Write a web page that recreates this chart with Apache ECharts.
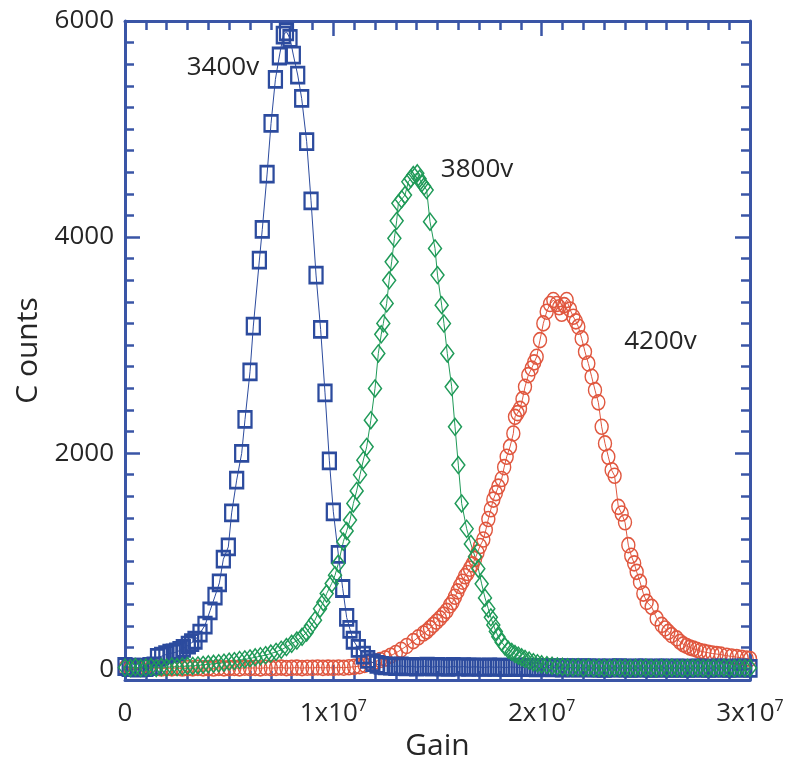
<!DOCTYPE html>
<html>
<head>
<meta charset="utf-8">
<script src="https://cdn.jsdelivr.net/npm/echarts@6/dist/echarts.min.js"></script>
<style>html,body{margin:0;padding:0;background:#fff}#c{width:786px;height:762px}</style>
</head>
<body>
<div id="c"></div>
<script>
// Gain in units of 1e6, Counts
const data3400 = [
[0,25],[0.2,15],[0.4,20],[0.6,10],[0.8,20],[1.0,15],[1.2,25],[1.4,30],
[1.56,110],[1.76,120],[1.96,135],[2.16,148],[2.32,150],[2.48,160],[2.64,175],[2.8,192],
[3.04,222],[3.2,245],[3.36,268],[3.6,333],[3.84,407],[4.08,540],[4.32,676],[4.53,799],
[4.72,1018],[4.96,1132],[5.12,1447],[5.36,1750],[5.6,1997],[5.76,2312],[6.0,2753],[6.16,3176],
[6.45,3787],[6.59,4071],[6.82,4583],[7.01,5052],[7.22,5460],[7.41,5676],[7.6,5870],[7.75,5900],
[7.92,5840],[8.08,5685],[8.29,5500],[8.48,5284],[8.72,4883],[8.93,4336],[9.17,3648],[9.39,3145],
[9.6,2558],[9.81,1929],[10.0,1457],[10.24,1062],[10.45,747],[10.64,479],[10.8,368],[10.96,268],
[11.2,192],[11.44,130],[11.65,90],[11.9,60],[12.1,45],[12.3,35],
[12.5,30],[12.75,28],[13,25],[13.25,30],[13.5,22],[13.75,26],[14,20],[14.25,24],[14.5,28],[14.75,20],
[15,25],[15.25,22],[15.5,18],[15.75,25],[16,20],[16.25,24],[16.5,18],[16.75,22],[17,20],[17.25,16],
[17.5,22],[17.75,18],[18,20],[18.25,15],[18.5,20],[18.75,18],[19,14],[19.25,18],[19.5,15],[19.75,12],
[20,16],[20.25,14],[20.5,12],[20.75,15],[21,10],[21.25,14],[21.5,12],[21.75,10],[22,14],[22.25,12],
[22.5,10],[22.75,12],[23,8],[23.25,12],[23.5,10],[23.75,14],[24,10],[24.25,8],[24.5,12],[24.75,10],
[25,12],[25.25,8],[25.5,10],[25.75,12],[26,10],[26.25,8],[26.5,12],[26.75,10],[27,8],[27.25,10],
[27.5,12],[27.75,10],[28,8],[28.25,10],[28.5,12],[28.75,10],[29,8],[29.25,10],[29.5,12],[29.75,10],[30,8]
];
const data3800 = [
[0,15],[0.25,10],[0.5,20],[0.75,10],[1,15],[1.25,20],[1.5,10],[1.75,20],[2,15],[2.25,25],[2.5,20],[2.75,25],
[3,30],[3.25,30],[3.5,35],[3.75,40],[4,45],[4.25,50],[4.5,55],[4.75,60],[5,70],[5.25,75],[5.5,85],[5.75,90],
[6,100],[6.25,110],[6.5,120],[6.75,130],[7,145],[7.25,160],[7.5,180],[7.75,205],[8,235],[8.25,265],[8.5,300],
[8.72,340],[8.92,400],[9.12,454],[9.36,560],[9.52,620],[9.68,700],[9.92,793],[10.08,870],[10.24,978],
[10.48,1180],[10.64,1280],[10.8,1380],[10.96,1534],[11.12,1650],[11.28,1800],[11.44,1935],[11.6,2058],
[11.8,2305],[12.0,2599],[12.16,2923],[12.3,3100],[12.4,3201],[12.56,3386],[12.68,3600],[12.8,3771],
[12.93,3988],[13.04,4150],[13.12,4312],[13.28,4350],[13.44,4389],[13.6,4512],[13.72,4540],[13.84,4574],
[14.03,4590],[14.14,4540],[14.24,4497],[14.36,4470],[14.48,4435],[14.64,4142],[14.88,3895],[15.0,3648],
[15.2,3370],[15.31,3200],[15.47,2923],[15.68,2614],[15.84,2244],[16.0,1889],[16.16,1534],[16.4,1300],
[16.6,1160],[16.8,1040],[16.96,930],[17.12,790],[17.28,660],[17.44,560],[17.56,480],[17.68,410],
[17.8,350],[17.92,300],[18.08,250],[18.24,210],[18.4,180],[18.56,160],[18.72,140],[18.88,125],
[19.04,110],[19.2,95],[19.4,80],[19.6,65],[19.8,55],[20,45],[20.25,38],[20.5,32],[20.75,26],
[21,22],[21.25,18],[21.5,15],[21.75,18],[22,12],[22.25,15],[22.5,10],[22.75,14],[23,12],[23.25,10],
[23.5,14],[23.75,10],[24,12],[24.25,8],[24.5,12],[24.75,10],[25,14],[25.25,10],[25.5,8],[25.75,12],
[26,10],[26.25,14],[26.5,10],[26.75,8],[27,12],[27.25,10],[27.5,14],[27.75,10],[28,8],[28.25,12],
[28.5,10],[28.75,14],[29,10],[29.25,8],[29.5,12],[29.75,10],[30,12]
];
const data4200 = [
[0,10],[0.25,5],[0.5,10],[0.75,5],[1,10],[1.25,8],[1.5,12],[1.75,6],[2,10],[2.25,8],[2.5,12],[2.75,6],
[3,10],[3.25,8],[3.5,12],[3.75,8],[4,10],[4.25,6],[4.5,12],[4.75,8],[5,10],[5.25,12],[5.5,8],[5.75,14],
[6,10],[6.25,12],[6.5,8],[6.75,14],[7,10],[7.25,12],[7.5,15],[7.75,10],[8,12],[8.25,15],[8.5,10],[8.75,14],
[9,12],[9.25,16],[9.5,12],[9.75,15],[10,12],[10.25,16],[10.5,14],[10.75,18],
[11,22],[11.25,28],[11.5,40],[11.75,55],[12,70],[12.25,85],[12.5,100],[12.75,125],[13,150],[13.25,180],
[13.52,215],[13.84,260],[14.08,295],[14.32,330],[14.48,350],[14.64,380],[14.8,410],[14.96,440],[15.12,470],
[15.28,505],[15.44,540],[15.6,590],[15.72,620],[15.84,670],[15.96,720],[16.08,770],[16.2,810],[16.32,860],
[16.44,890],[16.56,930],[16.68,970],[16.8,1020],[16.92,1080],[17.04,1140],[17.2,1200],[17.32,1290],
[17.44,1390],[17.56,1480],[17.68,1570],[17.8,1630],[17.92,1690],[18.08,1760],[18.2,1870],[18.32,1966],
[18.48,2058],[18.64,2182],[18.72,2336],[18.84,2370],[18.96,2410],[19.08,2500],[19.2,2614],[19.36,2722],
[19.52,2784],[19.64,2840],[19.76,2892],[19.92,3046],[20.08,3201],[20.24,3309],[20.4,3380],[20.56,3417],
[20.72,3380],[20.84,3350],[20.96,3290],[21.08,3370],[21.2,3417],[21.36,3330],[21.52,3262],[21.64,3220],
[21.76,3170],[21.92,3062],[22.08,2938],[22.24,2830],[22.4,2707],[22.56,2583],[22.72,2470],[22.88,2244],
[23.04,2090],[23.2,1966],[23.36,1842],[23.5,1790],[23.68,1503],[23.84,1441],[24.0,1360],[24.16,1148],
[24.3,1050],[24.44,980],[24.56,901],[24.72,808],[24.88,700],[25.04,623],[25.28,577],[25.52,470],
[25.76,410],[25.92,377],[26.08,345],[26.24,315],[26.48,285],[26.64,253],[26.8,230],[26.96,215],
[27.12,200],[27.28,191],[27.44,180],[27.6,168],[27.8,160],[28.0,152],[28.2,145],[28.4,140],[28.6,135],
[28.88,125],[29.12,118],[29.36,112],[29.6,105],[29.84,99],[30,95]
];
const GAIN_UNIT = 1e6;
const yMajorTicks = [0, 2000, 4000, 6000];
const yMinorTicks = [200,400,600,800,1000,1200,1400,1600,1800,2200,2400,2600,2800,3000,3200,3400,3600,3800,
                     4200,4400,4600,4800,5000,5200,5400,5600,5800];
const annotations = [
  {text: '3400v', gain: 4.7e6, counts: 5565},
  {text: '3800v', gain: 16.9e6, counts: 4620},
  {text: '4200v', gain: 25.7e6, counts: 3037}
];

const AX = '#3a55a6';
const FONT = 'Open Sans';
const TXT = '#262626';
const toXY = arr => arr.map(p => [p[0] * GAIN_UNIT, p[1]]);

const tickStyle = {color: AX, width: 2.5};
function xAx(pos, labels) {
  return {
    type: 'value', position: pos, min: 0, max: 3e7, interval: 1e7,
    axisLine: {show: true, onZero: false, lineStyle: {color: AX, width: 3}},
    axisTick: {show: true, inside: true, length: 15, lineStyle: tickStyle},
    minorTick: {show: true, splitNumber: 10, length: 9, lineStyle: tickStyle},
    splitLine: {show: false}, minorSplitLine: {show: false},
    axisLabel: labels ? {
      show: true, margin: 18, color: TXT, fontFamily: FONT,
      formatter: v => v === 0 ? '{a|0}' : '{a|' + (v / 1e7) + 'x10}{s|7}',
      rich: {
        a: {fontSize: 26, lineHeight: 32, fontFamily: FONT, color: TXT},
        s: {fontSize: 16, lineHeight: 16, verticalAlign: 'top', fontFamily: FONT, color: TXT}
      }
    } : {show: false},
    name: labels ? 'Gain' : '', nameLocation: 'middle', nameGap: 48,
    nameTextStyle: {fontSize: 30, fontFamily: FONT, color: TXT}
  };
}
function yAx(pos, ticks, len, showLine, labels) {
  return {
    type: 'value', position: pos, min: -100, max: 6000,
    axisLine: {show: showLine, onZero: false, lineStyle: {color: AX, width: 3}},
    axisTick: {show: true, inside: true, length: len, customValues: ticks, lineStyle: tickStyle},
    minorTick: {show: false},
    splitLine: {show: false},
    axisLabel: labels ? {show: true, margin: 11, customValues: yMajorTicks, fontSize: 26,
                         fontFamily: FONT, color: TXT, formatter: v => String(v)} : {show: false},
    name: labels ? 'C ounts' : '', nameLocation: 'middle', nameRotate: 90, nameGap: 56,
    nameTextStyle: {fontSize: 30, fontFamily: FONT, color: TXT}
  };
}

function ser(name, data, symbol, size, color, bw) {
  return {
    name, type: 'line', data: toXY(data), xAxisIndex: 0, yAxisIndex: 0,
    symbol, symbolSize: size, showAllSymbol: true, clip: false,
    itemStyle: {color: 'rgba(255,255,255,0)', borderColor: color, borderWidth: bw},
    lineStyle: {color: color, width: 1},
    emphasis: {disabled: true}, silent: true
  };
}

const chart = echarts.init(document.getElementById('c'), null, {renderer: 'canvas'});
chart.setOption({
  animation: false,
  backgroundColor: '#fff',
  grid: {left: 125, right: 36, top: 21, bottom: 82, containLabel: false, outerBoundsMode: 'none'},
  xAxis: [xAx('bottom', true), xAx('top', false)],
  yAxis: [
    yAx('left', yMajorTicks, 15, true, true),
    yAx('right', yMajorTicks, 15, true, false),
    yAx('left', yMinorTicks, 9, false, false),
    yAx('right', yMinorTicks, 9, false, false)
  ],
  series: [
    ser('4200v', data4200, 'circle', [13, 15], '#e0573f', 1.5),
    ser('3400v', data3400, 'rect', [13, 16], '#2c4b9e', 2.5),
    ser('3800v', data3800, 'diamond', [13, 17], '#1f9a58', 1.5),
    {
      type: 'scatter', xAxisIndex: 0, yAxisIndex: 0, silent: true,
      data: annotations.map(a => [a.gain, a.counts, a.text]),
      symbolSize: 1, itemStyle: {color: '#ffffff', opacity: 0},
      label: {show: true, position: 'inside', formatter: p => p.data[2],
              fontSize: 26, fontFamily: FONT, color: TXT, opacity: 1,
              textBorderWidth: 0, textBorderColor: 'transparent'}
    }
  ]
});
</script>
</body>
</html>
